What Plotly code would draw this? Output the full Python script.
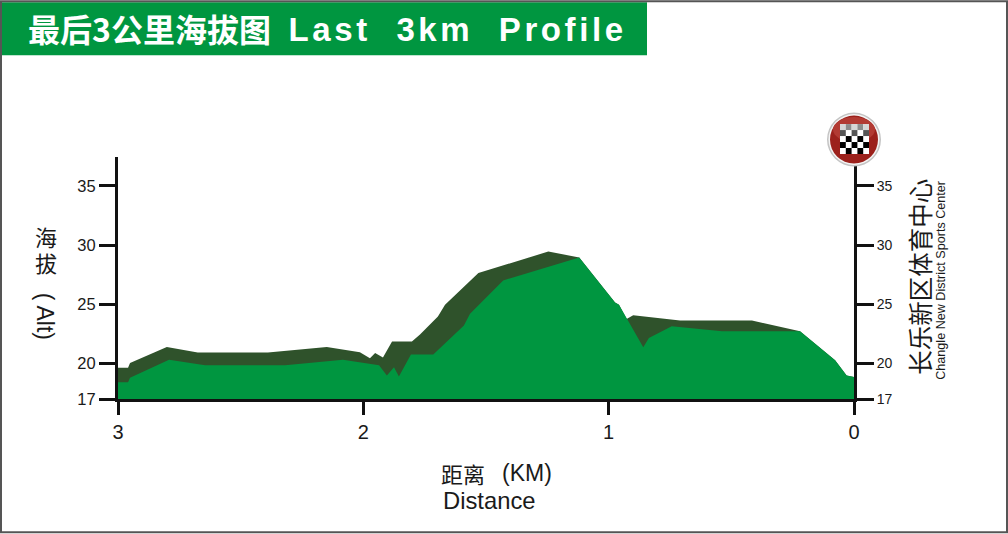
import plotly.graph_objects as go

W, H = 1008, 534
L, R, T, B = 118, 854, 157, 399.5

# Data: distance to the finish (km) and altitude (m)
upper_km = [3.00, 2.959, 2.951, 2.801, 2.675, 2.389, 2.149, 2.014, 1.973, 1.952, 1.920, 1.883, 1.802,
            1.769, 1.696, 1.667, 1.531, 1.246, 1.120, 0.974, 0.958, 0.927, 0.900, 0.709, 0.416, 0.220,
            0.077, 0.030, 0.0]
upper_alt = [19.63, 19.63, 20.05, 21.40, 20.92, 20.92, 21.40, 20.95, 20.44, 20.88, 20.50, 21.85, 21.85,
             22.44, 23.96, 24.97, 27.64, 29.46, 28.96, 25.16, 24.97, 23.76, 24.08, 23.64, 23.64, 22.72,
             20.27, 18.98, 18.85]
lower_km = [3.00, 2.959, 2.951, 2.792, 2.645, 2.319, 2.083, 1.936, 1.904, 1.875, 1.855, 1.806, 1.715,
            1.590, 1.565, 1.430, 1.120, 0.974, 0.958, 0.859, 0.836, 0.743, 0.538, 0.220, 0.077, 0.030, 0.0]
lower_alt = [18.42, 18.42, 18.79, 20.31, 19.85, 19.85, 20.31, 19.85, 18.98, 19.68, 18.90, 20.75, 20.75,
             23.20, 24.21, 27.02, 28.96, 25.16, 24.97, 21.37, 22.16, 23.14, 22.72, 22.72, 20.27, 18.98, 18.85]
x_ticks = [3, 2, 1, 0]
y_ticks = [17, 20, 25, 30, 35]

DARK = "#2f522b"
GREEN = "#009640"
INK = "#1a1a1a"
SANS = "Liberation Sans, Arial, sans-serif"
CJK = "Noto Sans CJK SC, sans-serif"
LATIN_FIRST = "Liberation Sans, Noto Sans CJK SC, sans-serif"


def px(x):
    return (x - L) / (R - L)


def py(y):
    return (B - y) / (B - T)


def rect(x0, y0, x1, y1, fill, line=None, w=0, kind="rect"):
    return dict(type=kind, xref="paper", yref="paper", x0=px(x0), x1=px(x1), y0=py(y0), y1=py(y1),
                fillcolor=fill, line=dict(color=line or fill, width=w), layer="above")


def label(x, y, text, size, anchor="center", vanchor="middle", angle=0, color=INK, family=SANS):
    return dict(xref="paper", yref="paper", x=px(x), y=py(y), text=text, showarrow=False, xanchor=anchor,
                yanchor=vanchor, textangle=angle, font=dict(size=size, color=color, family=family),
                borderpad=0, borderwidth=0)


shapes = [
    rect(2, 2, 647, 55, GREEN),
    rect(1, 1, 1007, 533, "rgba(0,0,0,0)", "#555555", 2),
    rect(827, 112.5, 881, 166.5, "#c4c4c4", kind="circle"),
    rect(828.5, 114, 879.5, 165, "#f4f4f4", kind="circle"),
    rect(830, 115.5, 878, 163.5, "#9c211c", kind="circle"),
    rect(833, 117, 875, 142, "#b23a33", kind="circle"),
    rect(840, 124, 869, 154, "#ffffff"),
]
cell = 29 / 5
row_h = 30 / 5
for r in range(5):
    for c in range(5):
        if (r + c) % 2 == 1:
            color = "#8c8c8c" if r == 0 else "#555555" if r == 1 else "#000000"
            shapes.append(rect(840 + c * cell, 124 + r * row_h, 840 + (c + 1) * cell, 124 + (r + 1) * row_h, color))
        elif r == 0:
            shapes.append(rect(840 + c * cell, 124, 840 + (c + 1) * cell, 130, "#d6d6d6"))

TITLE_SPACING = 3.6
annotations = [
    label(28, 28, "<b>最后3公里海拔图</b>", 32, "left", color="#ffffff", family=CJK),
    label(289 + TITLE_SPACING * 9, 29, "<b>Last  3km  Profile</b>", 33, "left", color="#ffffff"),
    label(46, 239, "海", 22, family=LATIN_FIRST),
    label(46, 265, "拔", 22, family=LATIN_FIRST),
    label(45, 316, "( Alt)", 23, angle=90),
    label(920, 277, "长乐新区体育中心", 24.5, angle=-90, family=CJK),
    label(941, 281, "Changle New District Sports Center", 12.6, angle=-90),
    label(441, 474, "距离", 22, "left", family=CJK),
    label(502, 474, "(KM)", 23, "left"),
    label(443, 501, "Distance", 23.8, "left"),
]

fig = go.Figure()
fig.add_trace(go.Scatter(x=upper_km, y=upper_alt, mode="lines", line=dict(width=0, color=DARK),
                         fill="tozeroy", fillcolor=DARK, hoverinfo="skip", showlegend=False))
fig.add_trace(go.Scatter(x=lower_km, y=lower_alt, mode="lines", line=dict(width=0, color=GREEN),
                         fill="tozeroy", fillcolor=GREEN, hoverinfo="skip", showlegend=False))
fig.add_trace(go.Scatter(x=lower_km, y=lower_alt, yaxis="y2", mode="lines", opacity=0, line=dict(width=0),
                         hoverinfo="skip", showlegend=False))

y_range = [17, 17 + (B - T) / 11.86]
fig.update_layout(
    width=W, height=H, autosize=False,
    margin=dict(l=L, r=W - R, t=T, b=H - B, pad=0),
    paper_bgcolor="#ffffff", plot_bgcolor="#ffffff",
    showlegend=False, shapes=shapes, annotations=annotations,
    xaxis=dict(range=[3, 0], tickvals=x_ticks, ticktext=[str(v) for v in x_ticks], ticks="outside", ticklen=13,
               tickwidth=3, tickcolor="#111111", showline=True, linecolor="#111111", linewidth=3,
               showgrid=False, zeroline=False, tickfont=dict(size=20, color=INK, family=SANS)),
    yaxis=dict(range=y_range, tickvals=y_ticks, ticks="outside", ticklen=16, tickwidth=3, tickcolor="#111111",
               showline=True, linecolor="#111111", linewidth=3, showgrid=False, zeroline=False,
               tickfont=dict(size=16.5, color=INK, family=SANS)),
    yaxis2=dict(range=y_range, overlaying="y", side="right", anchor="x", tickvals=y_ticks, ticks="outside",
                ticklen=17, tickwidth=3, tickcolor="#111111", showline=True, linecolor="#111111", linewidth=3,
                showgrid=False, zeroline=False, tickfont=dict(size=14, color=INK, family=SANS)),
)

post = """
document.body.style.margin = '0';
document.body.style.overflow = 'hidden';
document.querySelectorAll('.annotation-text').forEach(function (t) {
  if (t.textContent.indexOf('Last') === 0) { t.style.letterSpacing = '3.6px'; }
});
"""
fig.write_html("out.html", config=dict(displayModeBar=False), post_script=post)
